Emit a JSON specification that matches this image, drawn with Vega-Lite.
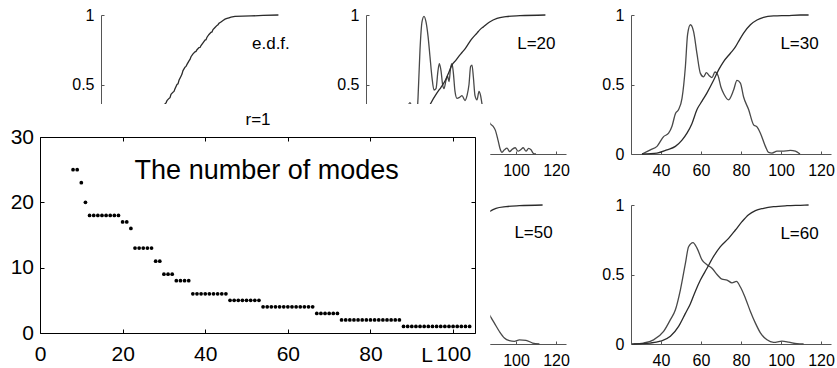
{
"$schema": "https://vega.github.io/schema/vega-lite/v6.json",
"width": 837, "height": 368, "padding": 0, "autosize": {"type": "none"},
"background": "white",
"config": {"view": {"stroke": null}, "font": "Liberation Sans",
  "axis": {"grid": false, "labelFlush": false, "labelOverlap": false, "title": null, "labelColor": "#000", "labelFont": "Liberation Sans", "titleFont": "Liberation Sans"},
  "text": {"font": "Liberation Sans"}},
"datasets": {
"modes": [
{"L":8,"m":25},{"L":9,"m":25},{"L":10,"m":23},{"L":11,"m":20},{"L":12,"m":18},{"L":13,"m":18},{"L":14,"m":18},{"L":15,"m":18},{"L":16,"m":18},{"L":17,"m":18},{"L":18,"m":18},{"L":19,"m":18},{"L":20,"m":17},{"L":21,"m":17},{"L":22,"m":16},{"L":23,"m":13},{"L":24,"m":13},{"L":25,"m":13},{"L":26,"m":13},{"L":27,"m":13},{"L":28,"m":11},{"L":29,"m":11},{"L":30,"m":9},{"L":31,"m":9},{"L":32,"m":9},{"L":33,"m":8},{"L":34,"m":8},{"L":35,"m":8},{"L":36,"m":8},
{"L":37,"m":6},{"L":38,"m":6},{"L":39,"m":6},{"L":40,"m":6},{"L":41,"m":6},{"L":42,"m":6},{"L":43,"m":6},{"L":44,"m":6},{"L":45,"m":6},
{"L":46,"m":5},{"L":47,"m":5},{"L":48,"m":5},{"L":49,"m":5},{"L":50,"m":5},{"L":51,"m":5},{"L":52,"m":5},{"L":53,"m":5},
{"L":54,"m":4},{"L":55,"m":4},{"L":56,"m":4},{"L":57,"m":4},{"L":58,"m":4},{"L":59,"m":4},{"L":60,"m":4},{"L":61,"m":4},{"L":62,"m":4},{"L":63,"m":4},{"L":64,"m":4},{"L":65,"m":4},{"L":66,"m":4},
{"L":67,"m":3},{"L":68,"m":3},{"L":69,"m":3},{"L":70,"m":3},{"L":71,"m":3},{"L":72,"m":3},
{"L":73,"m":2},{"L":74,"m":2},{"L":75,"m":2},{"L":76,"m":2},{"L":77,"m":2},{"L":78,"m":2},{"L":79,"m":2},{"L":80,"m":2},{"L":81,"m":2},{"L":82,"m":2},{"L":83,"m":2},{"L":84,"m":2},{"L":85,"m":2},{"L":86,"m":2},{"L":87,"m":2},
{"L":88,"m":1},{"L":89,"m":1},{"L":90,"m":1},{"L":91,"m":1},{"L":92,"m":1},{"L":93,"m":1},{"L":94,"m":1},{"L":95,"m":1},{"L":96,"m":1},{"L":97,"m":1},{"L":98,"m":1},{"L":99,"m":1},{"L":100,"m":1},{"L":101,"m":1},{"L":102,"m":1},{"L":103,"m":1},{"L":104,"m":1}
],
"edf": [
{"x":30,"y":0},{"x":35,"y":0.005},{"x":40,"y":0.02},{"x":44,"y":0.05},{"x":48,"y":0.11},{"x":51,"y":0.17},{"x":53,"y":0.22},{"x":55,"y":0.29},{"x":56,"y":0.33},{"x":57,"y":0.36},{"x":57.6,"y":0.37},{"x":58,"y":0.385},{"x":59,"y":0.4},{"x":59.5,"y":0.405},{"x":60,"y":0.43},{"x":61,"y":0.445},{"x":61.5,"y":0.45},{"x":62,"y":0.47},{"x":63,"y":0.5},{"x":63.5,"y":0.505},{"x":64,"y":0.53},{"x":65,"y":0.56},{"x":65.5,"y":0.575},{"x":66,"y":0.6},{"x":67,"y":0.625},{"x":67.5,"y":0.63},{"x":68,"y":0.645},{"x":69,"y":0.67},{"x":69.5,"y":0.68},{"x":70,"y":0.7},{"x":71,"y":0.72},{"x":72,"y":0.735},{"x":72.5,"y":0.738},{"x":73,"y":0.75},{"x":74,"y":0.765},{"x":74.6,"y":0.768},{"x":75,"y":0.78},{"x":76,"y":0.8},{"x":77,"y":0.82},{"x":77.5,"y":0.822},{"x":78,"y":0.84},{"x":79,"y":0.86},{"x":80,"y":0.875},{"x":80.5,"y":0.878},{"x":81,"y":0.895},{"x":82,"y":0.91},{"x":83,"y":0.925},{"x":83.5,"y":0.93},{"x":84,"y":0.94},{"x":85,"y":0.95},{"x":86,"y":0.96},{"x":87,"y":0.97},{"x":88,"y":0.975},{"x":89,"y":0.98},{"x":90,"y":0.985},{"x":92,"y":0.99},{"x":100,"y":0.993},{"x":106,"y":0.997},{"x":113.7,"y":1}
],
"L20": [
{"c":"density","x":30,"y":0},{"c":"density","x":35,"y":0.02},{"c":"density","x":40,"y":0.08},{"c":"density","x":43,"y":0.2},{"c":"density","x":45,"y":0.3},{"c":"density","x":47,"y":0.37},{"c":"density","x":48.5,"y":0.3},{"c":"density","x":50,"y":0.2},{"c":"density","x":51,"y":0.4},{"c":"density","x":52,"y":0.75},{"c":"density","x":53,"y":0.95},{"c":"density","x":54,"y":0.99},{"c":"density","x":55,"y":0.95},{"c":"density","x":56,"y":0.85},{"c":"density","x":57,"y":0.7},{"c":"density","x":58,"y":0.55},{"c":"density","x":59,"y":0.46},{"c":"density","x":60,"y":0.47},{"c":"density","x":61,"y":0.6},{"c":"density","x":61.7,"y":0.65},{"c":"density","x":62.5,"y":0.6},{"c":"density","x":63.3,"y":0.5},{"c":"density","x":64,"y":0.47},{"c":"density","x":65,"y":0.53},{"c":"density","x":65.8,"y":0.56},{"c":"density","x":66.5,"y":0.52},{"c":"density","x":67.3,"y":0.62},{"c":"density","x":68,"y":0.65},{"c":"density","x":68.7,"y":0.58},{"c":"density","x":69.5,"y":0.45},{"c":"density","x":70.5,"y":0.4},{"c":"density","x":72,"y":0.41},{"c":"density","x":73,"y":0.42},{"c":"density","x":74.5,"y":0.385},{"c":"density","x":75.5,"y":0.42},{"c":"density","x":76.5,"y":0.5},{"c":"density","x":77.3,"y":0.63},{"c":"density","x":78,"y":0.64},{"c":"density","x":78.7,"y":0.55},{"c":"density","x":79.5,"y":0.42},{"c":"density","x":80.5,"y":0.39},{"c":"density","x":81.5,"y":0.45},{"c":"density","x":82.3,"y":0.42},{"c":"density","x":83,"y":0.36},{"c":"density","x":84,"y":0.3},{"c":"density","x":85,"y":0.27},{"c":"density","x":86,"y":0.25},{"c":"density","x":87,"y":0.22},{"c":"density","x":88.5,"y":0.2},{"c":"density","x":89.7,"y":0.17},{"c":"density","x":91,"y":0.1},{"c":"density","x":92,"y":0.04},{"c":"density","x":93,"y":0.012},{"c":"density","x":94.2,"y":0.03},{"c":"density","x":95.5,"y":0.042},{"c":"density","x":96.8,"y":0.018},{"c":"density","x":98.2,"y":0.035},{"c":"density","x":99.6,"y":0.045},{"c":"density","x":101,"y":0.02},{"c":"density","x":102.3,"y":0.03},{"c":"density","x":103.6,"y":0.045},{"c":"density","x":105,"y":0.02},{"c":"density","x":106.3,"y":0.04},{"c":"density","x":107.5,"y":0.03},{"c":"density","x":108.8,"y":0.003},{"c":"density","x":110,"y":0},
{"c":"cdf","x":30,"y":0},{"c":"cdf","x":40,"y":0.02},{"c":"cdf","x":45,"y":0.06},{"c":"cdf","x":50,"y":0.14},{"c":"cdf","x":53,"y":0.22},{"c":"cdf","x":55,"y":0.29},{"c":"cdf","x":57.2,"y":0.36},{"c":"cdf","x":60.5,"y":0.44},{"c":"cdf","x":62.5,"y":0.48},{"c":"cdf","x":64.7,"y":0.53},{"c":"cdf","x":66.5,"y":0.59},{"c":"cdf","x":68,"y":0.64},{"c":"cdf","x":70,"y":0.675},{"c":"cdf","x":71.3,"y":0.7},{"c":"cdf","x":73,"y":0.73},{"c":"cdf","x":74.7,"y":0.76},{"c":"cdf","x":76.5,"y":0.8},{"c":"cdf","x":78,"y":0.83},{"c":"cdf","x":80.5,"y":0.87},{"c":"cdf","x":82,"y":0.895},{"c":"cdf","x":83.8,"y":0.916},{"c":"cdf","x":86.8,"y":0.95},{"c":"cdf","x":90.5,"y":0.976},{"c":"cdf","x":95,"y":0.988},{"c":"cdf","x":102,"y":0.995},{"c":"cdf","x":114.7,"y":1}
],
"L30": [
{"c":"density","x":30.5,"y":0},{"c":"density","x":34.7,"y":0.03},{"c":"density","x":38,"y":0.055},{"c":"density","x":41.3,"y":0.125},{"c":"density","x":43.8,"y":0.15},{"c":"density","x":45.5,"y":0.2},{"c":"density","x":47.2,"y":0.29},{"c":"density","x":48.8,"y":0.32},{"c":"density","x":50.5,"y":0.4},{"c":"density","x":52.2,"y":0.63},{"c":"density","x":53.3,"y":0.86},{"c":"density","x":54.7,"y":0.93},{"c":"density","x":56.3,"y":0.88},{"c":"density","x":58,"y":0.72},{"c":"density","x":59.7,"y":0.58},{"c":"density","x":61.3,"y":0.555},{"c":"density","x":62.7,"y":0.585},{"c":"density","x":64,"y":0.565},{"c":"density","x":65.5,"y":0.55},{"c":"density","x":67,"y":0.59},{"c":"density","x":68.5,"y":0.565},{"c":"density","x":70,"y":0.48},{"c":"density","x":71.5,"y":0.43},{"c":"density","x":73.8,"y":0.39},{"c":"density","x":76.3,"y":0.46},{"c":"density","x":78,"y":0.53},{"c":"density","x":79.7,"y":0.51},{"c":"density","x":81.3,"y":0.41},{"c":"density","x":83.8,"y":0.32},{"c":"density","x":86.3,"y":0.21},{"c":"density","x":88,"y":0.195},{"c":"density","x":89.7,"y":0.15},{"c":"density","x":92.2,"y":0.055},{"c":"density","x":93.8,"y":0.012},{"c":"density","x":95.5,"y":0.007},{"c":"density","x":98,"y":0.02},{"c":"density","x":100.5,"y":0.02},{"c":"density","x":104.7,"y":0.026},{"c":"density","x":107.2,"y":0.02},{"c":"density","x":109.5,"y":0},
{"c":"cdf","x":30.5,"y":0},{"c":"cdf","x":38,"y":0.007},{"c":"cdf","x":43,"y":0.03},{"c":"cdf","x":47.2,"y":0.055},{"c":"cdf","x":50.5,"y":0.1},{"c":"cdf","x":53,"y":0.15},{"c":"cdf","x":55.5,"y":0.22},{"c":"cdf","x":58,"y":0.32},{"c":"cdf","x":60.5,"y":0.38},{"c":"cdf","x":63,"y":0.44},{"c":"cdf","x":66.3,"y":0.53},{"c":"cdf","x":68.8,"y":0.605},{"c":"cdf","x":71.3,"y":0.665},{"c":"cdf","x":74.7,"y":0.725},{"c":"cdf","x":77.2,"y":0.77},{"c":"cdf","x":78.8,"y":0.81},{"c":"cdf","x":81.3,"y":0.87},{"c":"cdf","x":84.7,"y":0.93},{"c":"cdf","x":88,"y":0.964},{"c":"cdf","x":91.3,"y":0.983},{"c":"cdf","x":96.3,"y":0.993},{"c":"cdf","x":103,"y":0.996},{"c":"cdf","x":109.7,"y":1},{"c":"cdf","x":113.8,"y":1}
],
"L50": [
{"c":"density","x":27,"y":0},{"c":"density","x":32,"y":0.01},{"c":"density","x":37,"y":0.04},{"c":"density","x":42,"y":0.12},{"c":"density","x":45,"y":0.22},{"c":"density","x":48,"y":0.38},{"c":"density","x":51,"y":0.62},{"c":"density","x":53,"y":0.76},{"c":"density","x":55,"y":0.8},{"c":"density","x":57,"y":0.74},{"c":"density","x":59,"y":0.64},{"c":"density","x":61,"y":0.57},{"c":"density","x":63,"y":0.56},{"c":"density","x":65,"y":0.55},{"c":"density","x":67,"y":0.52},{"c":"density","x":69,"y":0.48},{"c":"density","x":71,"y":0.45},{"c":"density","x":73,"y":0.44},{"c":"density","x":75,"y":0.46},{"c":"density","x":77,"y":0.48},{"c":"density","x":79,"y":0.45},{"c":"density","x":81,"y":0.38},{"c":"density","x":83,"y":0.3},{"c":"density","x":85,"y":0.25},{"c":"density","x":86.7,"y":0.21},{"c":"density","x":89.2,"y":0.15},{"c":"density","x":91.7,"y":0.09},{"c":"density","x":94.2,"y":0.043},{"c":"density","x":96.7,"y":0.024},{"c":"density","x":99.2,"y":0.019},{"c":"density","x":101.7,"y":0.029},{"c":"density","x":105,"y":0.026},{"c":"density","x":108.3,"y":0.007},{"c":"density","x":111.7,"y":0},
{"c":"cdf","x":27,"y":0},{"c":"cdf","x":35,"y":0.007},{"c":"cdf","x":40,"y":0.02},{"c":"cdf","x":45,"y":0.055},{"c":"cdf","x":49,"y":0.13},{"c":"cdf","x":52,"y":0.22},{"c":"cdf","x":55,"y":0.3},{"c":"cdf","x":58,"y":0.4},{"c":"cdf","x":61,"y":0.48},{"c":"cdf","x":64,"y":0.56},{"c":"cdf","x":67,"y":0.63},{"c":"cdf","x":70,"y":0.7},{"c":"cdf","x":74,"y":0.77},{"c":"cdf","x":78,"y":0.84},{"c":"cdf","x":82,"y":0.9},{"c":"cdf","x":84.5,"y":0.93},{"c":"cdf","x":86.7,"y":0.952},{"c":"cdf","x":90,"y":0.976},{"c":"cdf","x":95,"y":0.988},{"c":"cdf","x":101.7,"y":0.995},{"c":"cdf","x":113.3,"y":1}
],
"L60": [
{"c":"density","x":26.3,"y":0},{"c":"density","x":31.3,"y":0.007},{"c":"density","x":36.3,"y":0.03},{"c":"density","x":41.3,"y":0.09},{"c":"density","x":44.7,"y":0.175},{"c":"density","x":47.2,"y":0.246},{"c":"density","x":49.7,"y":0.39},{"c":"density","x":52.2,"y":0.58},{"c":"density","x":53.8,"y":0.7},{"c":"density","x":56,"y":0.73},{"c":"density","x":58,"y":0.69},{"c":"density","x":60.5,"y":0.605},{"c":"density","x":63,"y":0.57},{"c":"density","x":65.5,"y":0.545},{"c":"density","x":68,"y":0.5},{"c":"density","x":70.5,"y":0.466},{"c":"density","x":73,"y":0.46},{"c":"density","x":75.5,"y":0.44},{"c":"density","x":77.7,"y":0.45},{"c":"density","x":79.7,"y":0.41},{"c":"density","x":82.2,"y":0.33},{"c":"density","x":84.7,"y":0.234},{"c":"density","x":87.2,"y":0.15},{"c":"density","x":89.7,"y":0.08},{"c":"density","x":93,"y":0.03},{"c":"density","x":96.3,"y":0.012},{"c":"density","x":100.5,"y":0.02},{"c":"density","x":103.8,"y":0.014},{"c":"density","x":108,"y":0.002},{"c":"density","x":111.3,"y":0},
{"c":"cdf","x":25.5,"y":0},{"c":"cdf","x":34.7,"y":0.007},{"c":"cdf","x":39.7,"y":0.02},{"c":"cdf","x":44.7,"y":0.055},{"c":"cdf","x":48.8,"y":0.127},{"c":"cdf","x":52.2,"y":0.22},{"c":"cdf","x":54.7,"y":0.29},{"c":"cdf","x":57.2,"y":0.38},{"c":"cdf","x":59.7,"y":0.46},{"c":"cdf","x":63,"y":0.545},{"c":"cdf","x":66.3,"y":0.63},{"c":"cdf","x":69.7,"y":0.7},{"c":"cdf","x":73.8,"y":0.76},{"c":"cdf","x":77.2,"y":0.82},{"c":"cdf","x":80.5,"y":0.88},{"c":"cdf","x":83.8,"y":0.93},{"c":"cdf","x":87.2,"y":0.96},{"c":"cdf","x":91.3,"y":0.976},{"c":"cdf","x":96.3,"y":0.988},{"c":"cdf","x":103,"y":0.995},{"c":"cdf","x":109.7,"y":0.998},{"c":"cdf","x":113.8,"y":1}
]
},
"layer": [
{
 "layer": [
  {"data": {"name": "edf"}, "mark": {"type": "line", "interpolate": "linear", "strokeWidth": 1.3, "color": "#2b2b2b"},
   "encoding": {
    "x": {"field": "x", "type": "quantitative", "scale": {"domain": [25, 125], "range": [101, 301], "nice": false, "zero": false}, "axis": null},
    "y": {"field": "y", "type": "quantitative", "scale": {"domain": [0, 1], "range": [154, 15], "nice": false, "zero": false},
      "axis": {"orient": "left", "offset": -101, "values": [0.5, 1], "format": "~f", "tickSize": -3, "labelPadding": 10, "labelFontSize": 16, "domainColor": "#555", "tickColor": "#555", "zindex": 0}}}},
  {"data": {"values": [{"t": "e.d.f."}]}, "mark": {"type": "text", "align": "left", "baseline": "middle", "fontSize": 17, "color": "#000"},
   "encoding": {
    "x": {"datum": 100.5, "type": "quantitative", "scale": {"domain": [25, 125], "range": [101, 301], "nice": false, "zero": false}, "axis": null},
    "y": {"datum": 0.79, "type": "quantitative", "scale": {"domain": [0, 1], "range": [154, 15], "nice": false, "zero": false}, "axis": null},
    "text": {"field": "t"}}}
 ],
 "resolve": {"axis": {"x": "independent", "y": "independent"}}
},
{
 "layer": [
  {"data": {"name": "L20"}, "mark": {"type": "line", "interpolate": "monotone", "strokeWidth": 1.3},
   "encoding": {
    "x": {"field": "x", "type": "quantitative", "scale": {"domain": [25, 125], "range": [366, 566], "nice": false, "zero": false},
      "axis": {"orient": "bottom", "offset": -214, "values": [100, 120], "tickSize": -3, "labelPadding": 11, "labelFontSize": 16, "domainColor": "#555", "tickColor": "#555", "zindex": 0}},
    "y": {"field": "y", "type": "quantitative", "scale": {"domain": [0, 1], "range": [154, 15], "nice": false, "zero": false},
      "axis": {"orient": "left", "offset": -366, "values": [0.5, 1], "format": "~f", "tickSize": -3, "labelPadding": 10, "labelFontSize": 16, "domainColor": "#555", "tickColor": "#555", "zindex": 0}},
    "color": {"field": "c", "type": "nominal", "scale": {"domain": ["cdf", "density"], "range": ["#2b2b2b", "#484848"]}, "legend": null}}},
  {"data": {"values": [{"t": "L=20"}]}, "mark": {"type": "text", "align": "left", "baseline": "middle", "fontSize": 17, "color": "#000"},
   "encoding": {
    "x": {"datum": 100.6, "type": "quantitative", "scale": {"domain": [25, 125], "range": [366, 566], "nice": false, "zero": false}, "axis": null},
    "y": {"datum": 0.79, "type": "quantitative", "scale": {"domain": [0, 1], "range": [154, 15], "nice": false, "zero": false}, "axis": null},
    "text": {"field": "t"}}}
 ],
 "resolve": {"axis": {"x": "independent", "y": "independent"}}
},
{
 "layer": [
  {"data": {"name": "L30"}, "mark": {"type": "line", "interpolate": "monotone", "strokeWidth": 1.3},
   "encoding": {
    "x": {"field": "x", "type": "quantitative", "scale": {"domain": [25, 125], "range": [631, 831], "nice": false, "zero": false},
      "axis": {"orient": "bottom", "offset": -214, "values": [40, 60, 80, 100, 120], "tickSize": -3, "labelPadding": 11, "labelFontSize": 16, "domainColor": "#555", "tickColor": "#555", "zindex": 0}},
    "y": {"field": "y", "type": "quantitative", "scale": {"domain": [0, 1], "range": [154, 15], "nice": false, "zero": false},
      "axis": {"orient": "left", "offset": -631, "values": [0, 0.5, 1], "format": "~f", "tickSize": -3, "labelPadding": 10, "labelFontSize": 16, "domainColor": "#555", "tickColor": "#555", "zindex": 0}},
    "color": {"field": "c", "type": "nominal", "scale": {"domain": ["cdf", "density"], "range": ["#2b2b2b", "#484848"]}, "legend": null}}},
  {"data": {"values": [{"t": "L=30"}]}, "mark": {"type": "text", "align": "left", "baseline": "middle", "fontSize": 17, "color": "#000"},
   "encoding": {
    "x": {"datum": 99.7, "type": "quantitative", "scale": {"domain": [25, 125], "range": [631, 831], "nice": false, "zero": false}, "axis": null},
    "y": {"datum": 0.79, "type": "quantitative", "scale": {"domain": [0, 1], "range": [154, 15], "nice": false, "zero": false}, "axis": null},
    "text": {"field": "t"}}}
 ],
 "resolve": {"axis": {"x": "independent", "y": "independent"}}
},
{
 "layer": [
  {"data": {"name": "L50"}, "mark": {"type": "line", "interpolate": "monotone", "strokeWidth": 1.3},
   "encoding": {
    "x": {"field": "x", "type": "quantitative", "scale": {"domain": [25, 125], "range": [366, 566], "nice": false, "zero": false},
      "axis": {"orient": "bottom", "offset": -24, "values": [100, 120], "tickSize": -3, "labelPadding": 11, "labelFontSize": 16, "domainColor": "#555", "tickColor": "#555", "zindex": 0}},
    "y": {"field": "y", "type": "quantitative", "scale": {"domain": [0, 1], "range": [344, 205], "nice": false, "zero": false}, "axis": null},
    "color": {"field": "c", "type": "nominal", "scale": {"domain": ["cdf", "density"], "range": ["#2b2b2b", "#484848"]}, "legend": null}}},
  {"data": {"values": [{"t": "L=50"}]}, "mark": {"type": "text", "align": "left", "baseline": "middle", "fontSize": 17, "color": "#000"},
   "encoding": {
    "x": {"datum": 99.2, "type": "quantitative", "scale": {"domain": [25, 125], "range": [366, 566], "nice": false, "zero": false}, "axis": null},
    "y": {"datum": 0.795, "type": "quantitative", "scale": {"domain": [0, 1], "range": [344, 205], "nice": false, "zero": false}, "axis": null},
    "text": {"field": "t"}}}
 ],
 "resolve": {"axis": {"x": "independent", "y": "independent"}}
},
{
 "layer": [
  {"data": {"name": "L60"}, "mark": {"type": "line", "interpolate": "monotone", "strokeWidth": 1.3},
   "encoding": {
    "x": {"field": "x", "type": "quantitative", "scale": {"domain": [25, 125], "range": [631, 831], "nice": false, "zero": false},
      "axis": {"orient": "bottom", "offset": -24, "values": [40, 60, 80, 100, 120], "tickSize": -3, "labelPadding": 11, "labelFontSize": 16, "domainColor": "#555", "tickColor": "#555", "zindex": 0}},
    "y": {"field": "y", "type": "quantitative", "scale": {"domain": [0, 1], "range": [344, 205], "nice": false, "zero": false},
      "axis": {"orient": "left", "offset": -631, "values": [0, 0.5, 1], "format": "~f", "tickSize": -3, "labelPadding": 10, "labelFontSize": 16, "domainColor": "#555", "tickColor": "#555", "zindex": 0}},
    "color": {"field": "c", "type": "nominal", "scale": {"domain": ["cdf", "density"], "range": ["#2b2b2b", "#484848"]}, "legend": null}}},
  {"data": {"values": [{"t": "L=60"}]}, "mark": {"type": "text", "align": "left", "baseline": "middle", "fontSize": 17, "color": "#000"},
   "encoding": {
    "x": {"datum": 99.7, "type": "quantitative", "scale": {"domain": [25, 125], "range": [631, 831], "nice": false, "zero": false}, "axis": null},
    "y": {"datum": 0.79, "type": "quantitative", "scale": {"domain": [0, 1], "range": [344, 205], "nice": false, "zero": false}, "axis": null},
    "text": {"field": "t"}}}
 ],
 "resolve": {"axis": {"x": "independent", "y": "independent"}}
},
{
 "layer": [
  {"data": {"values": [{}]}, "mark": {"type": "rect", "fill": "white", "stroke": null},
   "encoding": {
    "x": {"datum": -10, "type": "quantitative", "scale": {"domain": [0, 105.3], "range": [40, 475], "nice": false, "zero": false}, "axis": null},
    "x2": {"datum": 109},
    "y": {"datum": -6, "type": "quantitative", "scale": {"domain": [0, 30], "range": [333, 137], "nice": false, "zero": false}, "axis": null},
    "y2": {"datum": 35.05}}},
  {"data": {"values": [{"t": "The number of modes"}]}, "mark": {"type": "text", "align": "left", "baseline": "alphabetic", "fontSize": 27, "color": "#000"},
   "encoding": {
    "x": {"datum": 22.9, "type": "quantitative", "scale": {"domain": [0, 105.3], "range": [40, 475], "nice": false, "zero": false},
      "axis": {"orient": "top", "offset": -137, "values": [0, 20, 40, 60, 80, 100], "labels": false, "tickSize": -4, "domainColor": "#000", "tickColor": "#000", "zindex": 1,
        "title": "r=1", "titleFontSize": 17, "titleFontWeight": "normal", "titleColor": "#000", "titlePadding": 8}},
    "y": {"datum": 23.6, "type": "quantitative", "scale": {"domain": [0, 30], "range": [333, 137], "nice": false, "zero": false},
      "axis": {"orient": "right", "offset": -362, "values": [0, 10, 20, 30], "labels": false, "tickSize": -4, "domainColor": "#000", "tickColor": "#000", "zindex": 1}},
    "text": {"field": "t"}}},
  {"data": {"name": "modes"}, "mark": {"type": "point", "filled": true, "size": 14, "color": "#000", "opacity": 1},
   "encoding": {
    "x": {"field": "L", "type": "quantitative", "scale": {"domain": [0, 105.3], "range": [40, 475], "nice": false, "zero": false},
      "axis": {"orient": "bottom", "offset": -35, "values": [0, 20, 40, 60, 80, 100], "tickSize": -4, "labelPadding": 14, "labelFontSize": 21, "domainColor": "#000", "tickColor": "#000", "zindex": 1,
        "title": "L", "titleX": 426.7, "titleY": 11, "titleAlign": "center", "titleBaseline": "top", "titleFontSize": 21, "titleFontWeight": "normal", "titleColor": "#000"}},
    "y": {"field": "m", "type": "quantitative", "scale": {"domain": [0, 30], "range": [333, 137], "nice": false, "zero": false},
      "axis": {"orient": "left", "offset": -40, "values": [0, 10, 20, 30], "tickSize": -4, "labelPadding": 10.5, "labelFontSize": 21, "domainColor": "#000", "tickColor": "#000", "zindex": 1}}}}
 ],
 "resolve": {"axis": {"x": "independent", "y": "independent"}}
}
],
"resolve": {"scale": {"x": "independent", "y": "independent"}, "axis": {"x": "independent", "y": "independent"}}
}
